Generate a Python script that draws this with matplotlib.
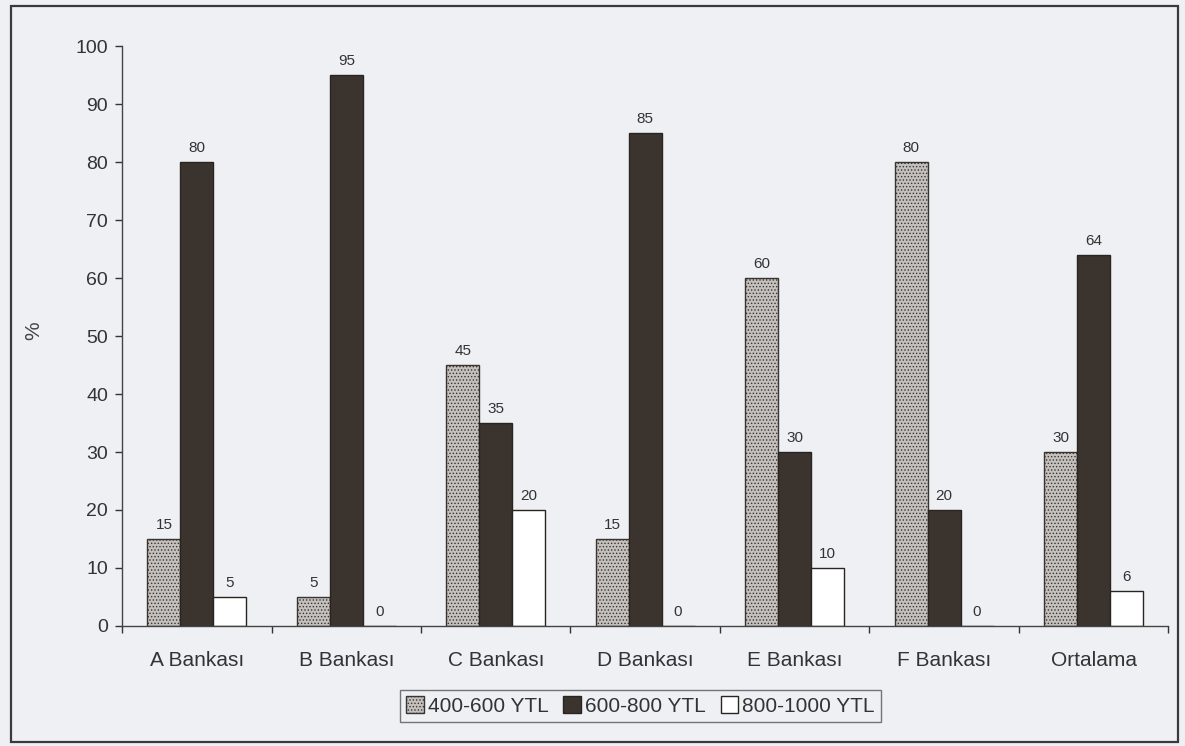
import matplotlib
matplotlib.use("Agg")
import matplotlib.pyplot as plt
import numpy as np
from matplotlib.patches import Rectangle

categories = ["A Bankası", "B Bankası", "C Bankası", "D Bankası", "E Bankası", "F Bankası", "Ortalama"]
series_names = ["400-600 YTL", "600-800 YTL", "800-1000 YTL"]
s400 = [15, 5, 45, 15, 60, 80, 30]
s600 = [80, 95, 35, 85, 30, 20, 64]
s800 = [5, 0, 20, 0, 10, 0, 6]
yticks = list(range(0, 101, 10))

plt.rcParams['font.family'] = ['Liberation Sans', 'DejaVu Sans']
plt.rcParams['hatch.color'] = '#77726e'
plt.rcParams['hatch.linewidth'] = 0.6

bg = '#eef0f4'
fig = plt.figure(figsize=(11.85, 7.46), dpi=100, facecolor=bg)
fig.patches.append(Rectangle((0.009, 0.006), 0.985, 0.986, transform=fig.transFigure,
                             fill=False, edgecolor='#3a3a3a', linewidth=1.6, zorder=0))
ax = fig.add_axes([0.103, 0.161, 0.883, 0.777])
ax.set_facecolor(bg)

x = np.arange(len(categories))
w = 0.22
styles = [dict(facecolor='#c4c0bd', edgecolor='#3a3430', hatch='.....'),
          dict(facecolor='#3b332e', edgecolor='#2a2420'),
          dict(facecolor='white', edgecolor='#2a2420')]
handles = []
for i, (vals, st) in enumerate(zip([s400, s600, s800], styles)):
    bars = ax.bar(x + (i - 1) * w, vals, width=w, linewidth=1.0, label=series_names[i], **st)
    handles.append(bars)
    for xi, v in zip(x + (i - 1) * w, vals):
        ax.annotate(str(v), (xi, v), xytext=(0, 5), textcoords='offset points',
                    ha='center', va='bottom', fontsize=11, color='#333333')

ax.set_xlim(-0.5, len(categories) - 0.5)
ax.set_ylim(0, 100)
ax.set_yticks(yticks)
ax.tick_params(axis='y', labelsize=14, colors='#333333', length=5, width=1, direction='out', pad=5)
ax.set_xticks(x)
ax.set_xticklabels(categories, fontsize=15, color='#333333')
ax.tick_params(axis='x', length=0, pad=18)
ax.set_xticks(np.arange(len(categories) + 1) - 0.5, minor=True)
ax.tick_params(axis='x', which='minor', length=5, width=1, color='#333333', direction='out')
for s in ['top', 'right']:
    ax.spines[s].set_visible(False)
for s in ['left', 'bottom']:
    ax.spines[s].set_color('#444444')
    ax.spines[s].set_linewidth(1.0)
ax.set_ylabel('%', fontsize=15, color='#444444')
ax.yaxis.set_label_coords(-0.075, 0.51)

leg = fig.legend(handles=handles, labels=series_names, loc='center', bbox_to_anchor=(0.5405, 0.0535),
                 ncol=3, fontsize=15, frameon=True, fancybox=False, edgecolor='#555555',
                 handlelength=0.85, handleheight=0.85, handletextpad=0.2, columnspacing=0.7,
                 borderpad=0.3, borderaxespad=0)
leg.get_frame().set_facecolor(bg)
leg.get_frame().set_linewidth(1.0)
for t in leg.get_texts():
    t.set_color('#333333')

fig.savefig('out.png', dpi=100, facecolor=bg)
